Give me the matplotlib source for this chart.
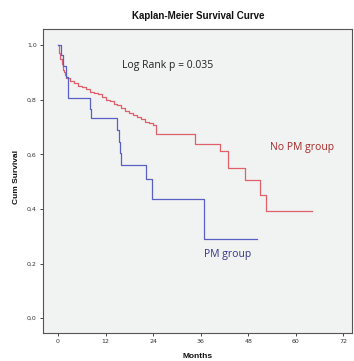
import matplotlib
matplotlib.use("Agg")
import matplotlib.pyplot as plt

# Data
nopm_t = [0, 0.3, 0.6, 0.9, 1.2, 1.5, 1.8, 2.1, 3, 4, 5, 6, 7, 8, 9, 10, 11, 12, 13, 14,
          15, 16, 17, 18, 19, 20, 21, 22, 23, 24, 24.8, 34.5, 41, 42.9, 47.1, 50.9, 52.6, 64.2]
nopm_s = [1.0, 0.97, 0.95, 0.93, 0.91, 0.90, 0.89, 0.879, 0.87, 0.86, 0.85, 0.845, 0.84, 0.83,
          0.825, 0.82, 0.81, 0.80, 0.795, 0.785, 0.78, 0.77, 0.76, 0.75, 0.745, 0.735, 0.73,
          0.72, 0.715, 0.708, 0.674, 0.638, 0.611, 0.55, 0.507, 0.45, 0.394, 0.394]
pm_t = [0, 0.8, 1.2, 2.0, 2.4, 8.0, 8.4, 14.9, 15.3, 15.7, 16.0, 22.3, 23.6, 36.9, 50.3]
pm_s = [1.0, 0.964, 0.924, 0.885, 0.808, 0.767, 0.733, 0.69, 0.647, 0.605, 0.56, 0.511,
        0.437, 0.29, 0.29]
xticks = [0, 12, 24, 36, 48, 60, 72]
yticks = [0.0, 0.2, 0.4, 0.6, 0.8, 1.0]
ytick_labels = ["0,0", "0,2", "0,4", "0,6", "0,8", "1,0"]

W, H = 354, 361
fig = plt.figure(figsize=(W / 100, H / 100), dpi=100)
ax = fig.add_axes([43 / W, (H - 333) / H, (352 - 43) / W, (333 - 29) / H])
ax.set_facecolor("#f1f2f2")

ax.step(nopm_t, nopm_s, where="post", color="#e0606a", lw=0.9)
ax.step(pm_t, pm_s, where="post", color="#5a5fc4", lw=0.9)

ax.set_xlim(-3.8, 74.2)
ax.set_ylim(-0.054, 1.059)
ax.set_xticks(xticks)
ax.set_xticklabels([str(v) for v in xticks])
ax.set_yticks(yticks)
ax.set_yticklabels(ytick_labels)
ax.tick_params(labelsize=4.5, length=2.5, width=0.7, colors="#444444", pad=2,
               labelcolor="#333333")
for sp in ax.spines.values():
    sp.set_color("#555555")
    sp.set_linewidth(0.8)

fnt = "Liberation Sans"
ax.text(16.1, 0.924, "Log Rank p = 0.035", fontsize=7.5, family="Open Sans",
        color="#222222", va="center", ha="left")
ax.text(53.4, 0.624, "No PM group", fontsize=7.5, family="Open Sans",
        color="#a82828", va="center", ha="left")
ax.text(36.8, 0.232, "PM group", fontsize=7.5, family="Open Sans",
        color="#343488", va="center", ha="left")

fig.text(198 / W, 1 - 16 / H, "Kaplan-Meier Survival Curve", fontsize=7.0,
         fontweight="bold", family=fnt, ha="center", va="center", color="#111111")
fig.text(17 / W, 1 - 177 / H, "Cum Survival", fontsize=6.0, fontweight="bold",
         family=fnt, rotation=90, ha="center", va="center", color="#111111")
fig.text(198 / W, 1 - 356 / H, "Months", fontsize=6.0, fontweight="bold",
         family=fnt, ha="center", va="center", color="#111111")

fig.savefig("out.png", dpi=100)
